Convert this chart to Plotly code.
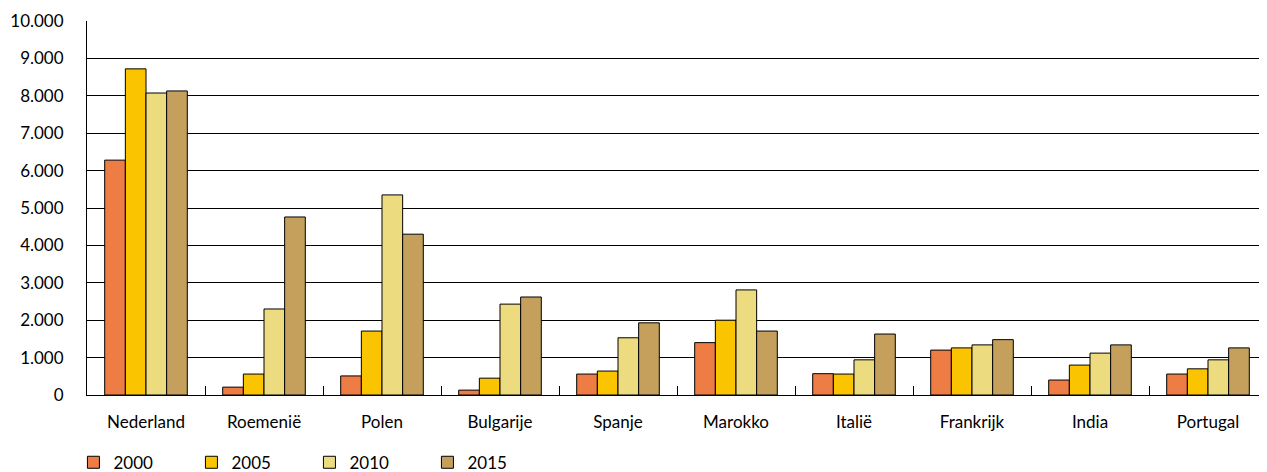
import plotly.graph_objects as go

landen = ["Nederland", "Roemenië", "Polen", "Bulgarije", "Spanje",
          "Marokko", "Italië", "Frankrijk", "India", "Portugal"]
jaren = ["2000", "2005", "2010", "2015"]
v2000 = [6280, 210, 510, 130, 560, 1400, 570, 1200, 400, 560]
v2005 = [8720, 560, 1710, 450, 640, 2000, 560, 1260, 800, 700]
v2010 = [8075, 2300, 5350, 2430, 1530, 2810, 940, 1340, 1120, 940]
v2015 = [8130, 4760, 4300, 2620, 1930, 1710, 1630, 1480, 1340, 1260]
kleuren = ["#ED7D45", "#FBC400", "#EDDB80", "#C4A05C"]

fig = go.Figure()
for jaar, waarden, kleur in zip(jaren, [v2000, v2005, v2010, v2015], kleuren):
    fig.add_bar(x=landen, y=waarden, name=jaar, marker_color=kleur,
                marker_line=dict(color="#000000", width=1))

# de pagina heeft 8px body-marge, daarom iets kleiner en verschoven
fig.update_layout(
    width=1259, height=464,
    margin=dict(l=79, r=0, t=13, b=77, autoexpand=False),
    paper_bgcolor="white", plot_bgcolor="white",
    font=dict(family="Lato, Noto Sans, sans-serif", size=17, color="#000000"),
    separators=",.",
    barmode="group", bargap=0.3, bargroupgap=0,
    legend=dict(orientation="h", x=-0.0115, xanchor="left",
                yref="container", y=0.02, yanchor="middle",
                entrywidth=73, font=dict(size=17)),
)
fig.update_yaxes(range=[0, 10000], dtick=1000, tickformat=",",
                 showgrid=True, gridcolor="#000000", gridwidth=1,
                 showline=True, linecolor="#000000", linewidth=1,
                 ticks="", ticklabelstandoff=19, zeroline=False, automargin=False)
fig.update_xaxes(showline=True, linecolor="#000000", linewidth=1,
                 ticks="inside", tickson="boundaries", ticklen=9, tickcolor="#000000",
                 ticklabelstandoff=12, automargin=False)

fig.write_html("out.html")
